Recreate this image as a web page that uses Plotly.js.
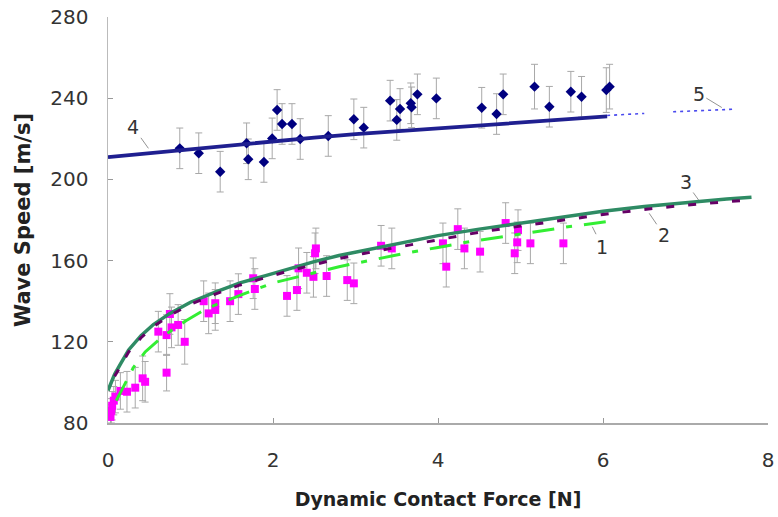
<!DOCTYPE html>
<html>
<head>
<meta charset="utf-8">
<script src="https://cdn.plot.ly/plotly-3.0.1.min.js"></script>
<style>html,body{margin:0;padding:0;background:#fff;}#chart{width:778px;height:517px;}</style>
</head>
<body>
<div id="chart"></div>
<script>
// Measured points, series 1 (magenta squares)
var forcePink = [0.03,0.04,0.05,0.07,0.09,0.15,0.23,0.33,0.42,0.45,0.61,0.71,0.71,0.75,0.77,0.85,0.93,1.16,1.22,1.30,1.30,1.48,1.58,1.76,1.78,2.17,2.29,2.31,2.41,2.49,2.51,2.52,2.65,2.90,2.98,3.31,3.44,4.06,4.10,4.24,4.32,4.51,4.82,4.93,4.96,4.97,5.12,5.52];
var speedPink = [83,86,88.5,91,93,95.8,95.4,97.4,102,100.3,125,104.8,123.3,133.7,127.1,128.3,120,140,134,135.7,139,140,143.5,151.3,146,142.6,145.5,156.2,154,152,163.6,166,152.4,150.4,148.8,167.3,166,168.5,157,175.5,166,164.4,178.5,163.6,169,175,168.5,168.5];
var errPink = [6,6,7,7,8,9,10,10,11,10,10,9,10,10,10,10,11,10,10,10,10,10,10,10,10,10,10,10,10,10,10,10,10,10,10,10,10,10,10,10,10,10,10,10,10,10,10,10];

// Measured points, series 4 (navy diamonds)
var forceBlue = [0.87,1.10,1.36,1.68,1.70,1.89,1.99,2.05,2.11,2.23,2.33,2.67,2.98,3.10,3.42,3.50,3.54,3.67,3.68,3.75,3.98,4.53,4.71,4.79,5.17,5.35,5.61,5.74,6.04,6.08];
var speedBlue = [215.3,212.9,203.8,217.8,209.9,208.6,220.2,234.2,227.3,227.3,219.9,221.4,229.6,225.5,238.8,229.3,234.7,237.5,235.5,241.9,239.9,235.3,232.2,241.9,245.7,235.8,243.2,240.7,244.0,245.7];
var errBlue = [10,10,10,10,10,10,10,10,10,10,10,10,10,10,10,10,10,10,10,10,10,10,10,10,11,10,10,10,11,11];

// Curve 1 (light green dashed)
var c1x = [0.1,0.2,0.31,0.45,0.63,0.8,0.95,1.2,1.44,1.64,2.0,2.4,2.8,3.2,3.6,4.0,4.4,4.8,5.2,5.6,6.07];
var c1y = [91,98.5,107.5,115,121.5,126.5,130.5,136.5,140.5,143.5,149,153,157,160.3,163.6,166.5,169.5,171.8,174.3,176.8,179.3];
// Curve 2 (dark purple dashed)
var c2x = [0.08,0.15,0.25,0.4,0.55,0.75,1.0,1.3,1.6,1.9,2.2,2.5,2.8,3.1,3.5,4.0,4.5,5.0,5.5,6.0,6.5,7.0,7.5,7.7];
var c2y = [103,108,115,122,127.5,133,138.5,143.5,148,151.5,155,158,161,163.5,166.5,170.5,174,177,180,182.7,185.2,187.3,189,189.6];
// Curve 3 (green solid)
var c3x = [0,0.03,0.08,0.15,0.25,0.4,0.55,0.75,1.0,1.3,1.6,1.9,2.2,2.5,2.8,3.1,3.5,4.0,4.5,5.0,5.5,6.0,6.5,7.0,7.5,7.8];
var c3y = [96,99,104,109,116,123,128.5,134,139.5,144.5,149,152.5,156,159.5,162.5,165,168,172.3,175.5,178.5,181.5,184.3,186.7,188.7,190.3,191.2];
// Curve 4 (navy solid)
var c4x = [0,0.5,1.0,1.5,2.0,2.5,3.0,3.5,4.0,4.5,5.0,5.5,6.05];
var c4y = [211,213,215,217,218.8,220.6,222.3,223.8,225.2,226.6,228,229.4,231];
// Curve 5 (blue dotted extrapolation)
var c5x = [6.05,6.5,null,6.85,7.6];
var c5y = [231.5,232.5,null,233.3,234.6];

// Curve labels
var labelText = ['1','2','3','4','5'];
var labelX = [5.87,6.56,7.16,0.49,7.44];
var labelY = [176.7,183.3,189.8,215.3,235.4];

var FONT = 'DejaVu Sans, Verdana, sans-serif';
var errStyle = {color:'#a8a8a8', thickness:1, width:3.5};

var traces = [
  {x:forcePink, y:speedPink, mode:'markers', type:'scatter',
   error_y:Object.assign({type:'data', array:errPink, visible:true}, errStyle),
   marker:{symbol:'square', size:8, color:'#ff00ff'}},
  {x:forceBlue, y:speedBlue, mode:'markers', type:'scatter',
   error_y:Object.assign({type:'data', array:errBlue, visible:true}, errStyle),
   marker:{symbol:'diamond', size:8, color:'#000080'}},
  {x:c3x, y:c3y, mode:'lines', line:{color:'#2e8b64', width:3.5}},
  {x:c2x, y:c2y, mode:'lines', line:{color:'#660066', width:3, dash:'8px,14px'}},
  {x:c1x, y:c1y, mode:'lines', line:{color:'#33ee33', width:3, dash:'22px,12px,6px,12px'}},
  {x:c4x, y:c4y, mode:'lines', line:{color:'#1f1f90', width:3.8}},
  {x:c5x, y:c5y, mode:'lines', line:{color:'#4a4aee', width:1.6, dash:'3px,4px'}, connectgaps:false}
];

var offsets = {'1':[10,20],'2':[15,22],'3':[-13,-18],'4':[-15,-21],'5':[-23,-14]};
var annotations = labelText.map(function(t,i){
  return {x:labelX[i], y:labelY[i], xref:'x', yref:'y', text:t, showarrow:true,
    arrowhead:0, arrowwidth:0.8, arrowcolor:'#777', ax:offsets[t][0], ay:offsets[t][1],
    font:{family:FONT, size:19, color:'#333'}};
});

var layout = {
  width:778, height:517,
  margin:{l:108, r:10, t:17, b:94},
  showlegend:false,
  paper_bgcolor:'#fff', plot_bgcolor:'#fff',
  xaxis:{range:[0,8], tickvals:[0,2,4,6,8], ticks:'inside', ticklen:5, tickcolor:'#999',
    showline:true, linecolor:'#aaa', linewidth:1.5, showgrid:false, zeroline:false,
    tickfont:{family:FONT, size:20, color:'#333'}, ticklabelstandoff:18,
    title:{text:'<b>Dynamic Contact Force [N]</b>', font:{family:FONT, size:19, color:'#222'}, standoff:22}},
  yaxis:{range:[80,280], tickvals:[80,120,160,200,240,280], ticks:'inside', ticklen:5, tickcolor:'#999',
    showline:true, linecolor:'#bbb', linewidth:1.5, showgrid:false, zeroline:false,
    tickfont:{family:FONT, size:20, color:'#333'}, ticklabelstandoff:14,
    title:{text:'<b>Wave Speed [m/s]</b>', font:{family:FONT, size:21, color:'#222'}, standoff:14}},
  annotations:annotations
};

Plotly.newPlot('chart', traces, layout, {displayModeBar:false, staticPlot:true});
</script>
</body>
</html>
